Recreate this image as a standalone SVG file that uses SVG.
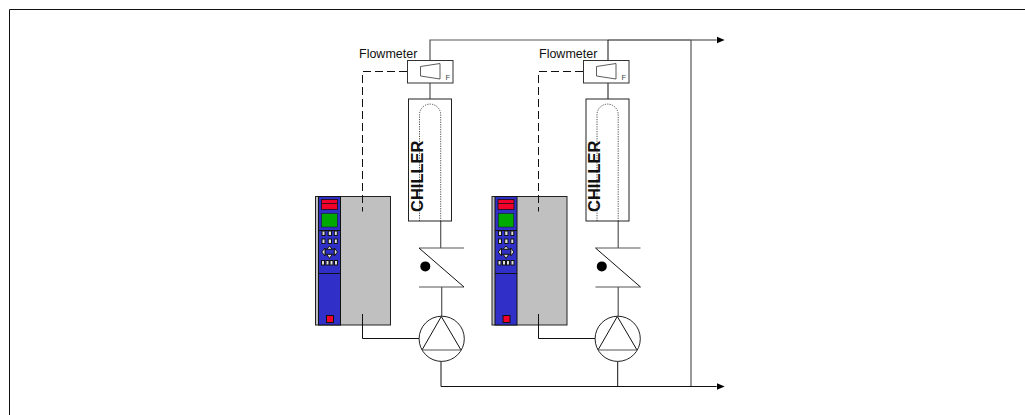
<svg xmlns="http://www.w3.org/2000/svg" width="1025" height="415" viewBox="0 0 1025 415">
<style>
.l{fill:none;stroke:#111;stroke-width:1}
.g{fill:none;stroke:#555;stroke-width:1.2}
.d{fill:none;stroke:#111;stroke-width:1;stroke-dasharray:8 4}
.o{fill:none;stroke:#222;stroke-width:.8;stroke-dasharray:1.2 1.2}
.b{fill:#fff;stroke:#222;stroke-width:1}
.t{font-family:"Liberation Sans",Arial,sans-serif;fill:#111}
.k{fill:#ddd;stroke:#111;stroke-width:1}
</style>
<defs>
<marker id="a" markerUnits="userSpaceOnUse" markerWidth="9" markerHeight="8" refX="0" refY="4" orient="auto"><path d="M0 .5L8 4L0 7.500z" fill="#000"/></marker>
<g id="vfdS">
<rect x="315.500" y="196.500" width="75" height="128.500" fill="#c0c0c0" stroke="#222"/>
<rect x="318.500" y="196.500" width="22" height="128.500" fill="#3030c8" stroke="#111"/>
<rect x="321.500" y="199.500" width="16" height="10" fill="#f0002a" stroke="#111" stroke-width=".8"/>
<path d="M321.500 203.500h16" stroke="#111" stroke-width=".8"/>
<rect x="321.700" y="213.500" width="15.600" height="13.500" fill="#00aa00" stroke="#111" stroke-width=".5"/>
<path d="M318.500 230.500h22M318.500 273.500h22" stroke="#111"/>
<rect class="k" x="322" y="231" width="3" height="4.500"/><rect class="k" x="328.200" y="231" width="3.300" height="4.500"/><rect class="k" x="334.300" y="231" width="3" height="4.500"/>
<rect class="k" x="322" y="239" width="3" height="4.500"/><rect class="k" x="328.200" y="239" width="3.300" height="4.500"/><rect class="k" x="334.300" y="239" width="3" height="4.500"/>
<rect x="325" y="249" width="9.300" height="5.300" fill="#3030c8" stroke="#111" stroke-width=".8"/>
<path class="k" stroke-width=".8" d="M326.700 249.300L329.500 246L332.300 249.300zM326.700 254.300L329.500 258.500L332.300 254.300zM325 248L321.700 252L325 256zM334.300 248L337.500 252L334.300 256z"/>
<rect class="k" x="321.500" y="260.500" width="3" height="4.500"/><rect class="k" x="326" y="260.500" width="3" height="4.500"/><rect class="k" x="330" y="260.500" width="3" height="4.500"/><rect class="k" x="334.500" y="260.500" width="3" height="4.500"/>
<rect x="326.500" y="315.500" width="7" height="7" fill="#f0002a" stroke="#111"/>
</g>
<g id="chS">
<rect class="b" x="408.500" y="99" width="43" height="122"/>
<text class="t" transform="translate(422.500 212) rotate(-90)" font-size="16.500" font-weight="bold">CHILLER</text>
<path class="o" d="M419.500 221V114.700A10.600 10.600 0 0 1 440.700 114.700V221"/>
</g>
<g id="fmS">
<rect x="407.500" y="60.500" width="45.500" height="22.500" fill="#fff" stroke="#333"/>
<path d="M420.500 66.500L440 63.500V79L420.500 76z" fill="#fff" stroke="#333" stroke-width=".8"/>
<text class="t" x="445.500" y="80" font-size="7.500" style="fill:#444">F</text>
</g>
<g id="chkS">
<path d="M419 248H464M419 287H464" class="g"/>
<path d="M419 248L464 287" class="l"/>
<circle cx="425.300" cy="266.400" r="5" fill="#000"/>
</g>
<g id="pmpS">
<circle cx="441.700" cy="338.800" r="22.600" fill="#fff" stroke="#222"/>
<path d="M441.300 316.500L422 350M441.300 316.500L461 350" class="l"/>
<path d="M422 350H461" class="g" stroke-width="1.500"/>
</g>
</defs>
<g id="vfd1"><use href="#vfdS"/></g>
<g id="vfd2"><use href="#vfdS" x="176.500"/></g>
<g id="connectors">
<path class="l" d="M9.500 415V9.500H1025"/>
<path class="g" d="M430 60.500V40H608"/>
<path class="l" d="M608 60.500V40H691"/>
<path class="g" d="M691 40H716.700" marker-end="url(#a)"/>
<path class="l" d="M441 361V386.500H716.700" marker-end="url(#a)"/>
<path class="g" d="M691 40V386"/>
<path class="g" d="M430 83V99M440.700 221V248M441.700 287V316"/>
<path class="l" d="M608 83V99"/>
<path class="g" d="M618.200 221V248M618.200 287V316"/>
<path class="d" d="M407 71.500H362.500V211.500"/>
<path class="d" d="M583 71.500H538.500V211.500"/>
<path class="l" d="M362.500 314V338.500H419"/>
<path class="l" d="M538.500 314V338.500H595"/>
<path class="l" d="M617.700 361V386"/>
</g>
<g id="flowmeter1"><use href="#fmS"/><text class="t" x="359" y="57.500" font-size="12.500">Flowmeter</text></g>
<g id="flowmeter2"><use href="#fmS" x="176"/><text class="t" x="539" y="57.500" font-size="12.500">Flowmeter</text></g>
<g id="chiller1"><use href="#chS"/></g>
<g id="chiller2"><use href="#chS" x="177.500"/></g>
<g id="valve1"><use href="#chkS"/></g>
<g id="valve2"><use href="#chkS" x="176.500"/></g>
<g id="pump1"><use href="#pmpS"/></g>
<g id="pump2"><use href="#pmpS" x="176"/></g>
</svg>
